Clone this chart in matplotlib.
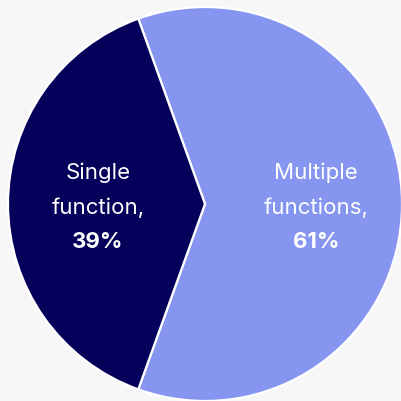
import matplotlib.pyplot as plt

# datos del grafico
categorias = [['Multiple', 'functions,'], ['Single', 'function,']]
valores = [61, 39]
colores = ['#8595f0', '#05005a']

plt.rcParams['font.family'] = ['Inter', 'DejaVu Sans']

fig = plt.figure(figsize=(4.02, 4.02), dpi=100, facecolor='#f7f7f7')
ax = fig.add_axes([0, 0, 1, 1])
ax.set_facecolor('#f7f7f7')

inicio = 180 - 180 * valores[1] / 100  # la porcion pequeña queda centrada a la izquierda
ax.pie(valores, colors=colores, startangle=inicio, counterclock=False, radius=1,
       wedgeprops=dict(edgecolor='white', linewidth=1.6))

# posiciones de las etiquetas (centro de cada porcion)
pos_x = [0.565, -0.543]
filas_y = [0.162, -0.015]
for cat, val, x in zip(categorias, valores, pos_x):
    for linea, y in zip(cat, filas_y):
        ax.text(x, y, linea, color='white', fontsize=16, ha='center', va='center')
    ax.text(x, -0.188, f'{val}%', color='white', fontsize=16, fontweight='bold',
            ha='center', va='center')

ax.set_xlim(-1.0406, 1.0)
ax.set_ylim(-1.0, 1.0406)
ax.set_aspect('equal')
ax.axis('off')

fig.savefig('out.png', dpi=100, facecolor='#f7f7f7')
